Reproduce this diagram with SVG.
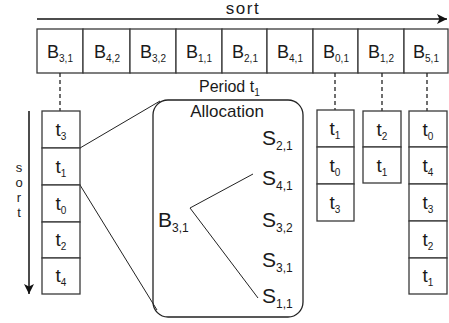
<svg xmlns="http://www.w3.org/2000/svg" width="449" height="323" viewBox="0 0 449 323">
<defs>
<style>
text{font-family:"Liberation Sans",Arial,sans-serif;fill:#1a1a1a}
.box{fill:#fff;stroke:#3a3a3a;stroke-width:1.3}
.b{font-size:18px;text-anchor:middle}
.t{font-size:19px;text-anchor:middle}
.sub{font-size:10px}
.big{font-size:21px}
.bsub{font-size:12px}
.vs{font-size:13px;text-anchor:middle}
.dash{stroke:#222;stroke-width:1.3;stroke-dasharray:4,3;fill:none}
.ln{stroke:#222;stroke-width:1;fill:none}
</style>
<marker id="ah" viewBox="0 0 10 10" refX="10" refY="5" markerWidth="10" markerHeight="10" markerUnits="userSpaceOnUse" orient="auto">
<path d="M0,0 L10,5 L0,10 L2.5,5 Z" fill="#111"/>
</marker>
</defs>

<g id="top-sort">
<line x1="37" y1="19" x2="447" y2="19" stroke="#111" stroke-width="1.5" marker-end="url(#ah)"/>
<text x="243" y="14" style="font-size:17px;letter-spacing:1.5px;text-anchor:middle">sort</text>
</g>

<g id="left-sort">
<line x1="29" y1="111" x2="29" y2="294" stroke="#111" stroke-width="1.5" marker-end="url(#ah)"/>
<text class="vs"><tspan x="19" y="172">s</tspan><tspan x="19" dy="15">o</tspan><tspan x="19" dy="15">r</tspan><tspan x="19" dy="15">t</tspan></text>
</g>

<g id="bidders">
<rect class="box" x="37" y="29" width="46" height="44"/>
<rect class="box" x="83" y="29" width="47" height="44"/>
<rect class="box" x="130" y="29" width="46" height="44"/>
<rect class="box" x="176" y="29" width="46" height="44"/>
<rect class="box" x="222" y="29" width="45" height="44"/>
<rect class="box" x="267" y="29" width="46" height="44"/>
<rect class="box" x="313" y="29" width="45" height="44"/>
<rect class="box" x="358" y="29" width="46" height="44"/>
<rect class="box" x="404" y="29" width="44" height="44"/>
<text class="b" x="60" y="58">B<tspan class="sub" dy="4">3,1</tspan></text>
<text class="b" x="107" y="58">B<tspan class="sub" dy="4">4,2</tspan></text>
<text class="b" x="153" y="58">B<tspan class="sub" dy="4">3,2</tspan></text>
<text class="b" x="199" y="58">B<tspan class="sub" dy="4">1,1</tspan></text>
<text class="b" x="245" y="58">B<tspan class="sub" dy="4">2,1</tspan></text>
<text class="b" x="290" y="58">B<tspan class="sub" dy="4">4,1</tspan></text>
<text class="b" x="336" y="58">B<tspan class="sub" dy="4">0,1</tspan></text>
<text class="b" x="381" y="58">B<tspan class="sub" dy="4">1,2</tspan></text>
<text class="b" x="426" y="58">B<tspan class="sub" dy="4">5,1</tspan></text>
</g>

<g id="connectors">
<line class="dash" x1="60" y1="73" x2="60" y2="111"/>
<line class="dash" x1="335" y1="73" x2="335" y2="110"/>
<line class="dash" x1="382" y1="73" x2="382" y2="111"/>
<line class="dash" x1="427" y1="73" x2="427" y2="111"/>
<line class="ln" x1="80" y1="148" x2="160" y2="101"/>
<line class="ln" x1="80" y1="185" x2="157" y2="310"/>
<line class="ln" x1="190" y1="208" x2="253" y2="174"/>
<line class="ln" x1="190" y1="208" x2="258" y2="298"/>
</g>

<g id="period-label">
<text x="199" y="92" style="font-size:16px">Period t<tspan class="sub" dy="4">1</tspan></text>
</g>

<g id="col-B31">
<rect class="box" x="42" y="111" width="38" height="37"/>
<rect class="box" x="42" y="148" width="38" height="37"/>
<rect class="box" x="42" y="185" width="38" height="37"/>
<rect class="box" x="42" y="222" width="38" height="36"/>
<rect class="box" x="42" y="258" width="38" height="36"/>
<text class="t" x="61" y="136">t<tspan class="sub" dy="4">3</tspan></text>
<text class="t" x="61" y="173">t<tspan class="sub" dy="4">1</tspan></text>
<text class="t" x="61" y="210">t<tspan class="sub" dy="4">0</tspan></text>
<text class="t" x="61" y="246">t<tspan class="sub" dy="4">2</tspan></text>
<text class="t" x="61" y="282">t<tspan class="sub" dy="4">4</tspan></text>
</g>

<g id="allocation">
<rect x="153" y="100" width="150" height="217" rx="15" ry="15" fill="none" stroke="#222" stroke-width="1.3"/>
<text x="227" y="117" style="font-size:17px;text-anchor:middle">Allocation</text>
<text class="big" x="158" y="227">B<tspan class="bsub" dy="5">3,1</tspan></text>
<text class="big" x="262" y="145">S<tspan class="bsub" dy="5">2,1</tspan></text>
<text class="big" x="262" y="185">S<tspan class="bsub" dy="5">4,1</tspan></text>
<text class="big" x="262" y="227">S<tspan class="bsub" dy="5">3,2</tspan></text>
<text class="big" x="262" y="267">S<tspan class="bsub" dy="5">3,1</tspan></text>
<text class="big" x="262" y="303">S<tspan class="bsub" dy="5">1,1</tspan></text>
</g>

<g id="col-B01">
<rect class="box" x="317" y="110" width="37" height="37"/>
<rect class="box" x="317" y="147" width="37" height="37"/>
<rect class="box" x="317" y="184" width="37" height="37"/>
<text class="t" x="335" y="135">t<tspan class="sub" dy="4">1</tspan></text>
<text class="t" x="335" y="172">t<tspan class="sub" dy="4">0</tspan></text>
<text class="t" x="335" y="209">t<tspan class="sub" dy="4">3</tspan></text>
</g>

<g id="col-B12">
<rect class="box" x="363" y="111" width="38" height="36"/>
<rect class="box" x="363" y="147" width="38" height="36"/>
<text class="t" x="382" y="136">t<tspan class="sub" dy="4">2</tspan></text>
<text class="t" x="382" y="172">t<tspan class="sub" dy="4">1</tspan></text>
</g>

<g id="col-B51">
<rect class="box" x="409" y="111" width="38" height="36"/>
<rect class="box" x="409" y="147" width="38" height="37"/>
<rect class="box" x="409" y="184" width="38" height="37"/>
<rect class="box" x="409" y="221" width="38" height="37"/>
<rect class="box" x="409" y="258" width="38" height="36"/>
<text class="t" x="428" y="136">t<tspan class="sub" dy="4">0</tspan></text>
<text class="t" x="428" y="172">t<tspan class="sub" dy="4">4</tspan></text>
<text class="t" x="428" y="209">t<tspan class="sub" dy="4">3</tspan></text>
<text class="t" x="428" y="246">t<tspan class="sub" dy="4">2</tspan></text>
<text class="t" x="428" y="282">t<tspan class="sub" dy="4">1</tspan></text>
</g>
</svg>
